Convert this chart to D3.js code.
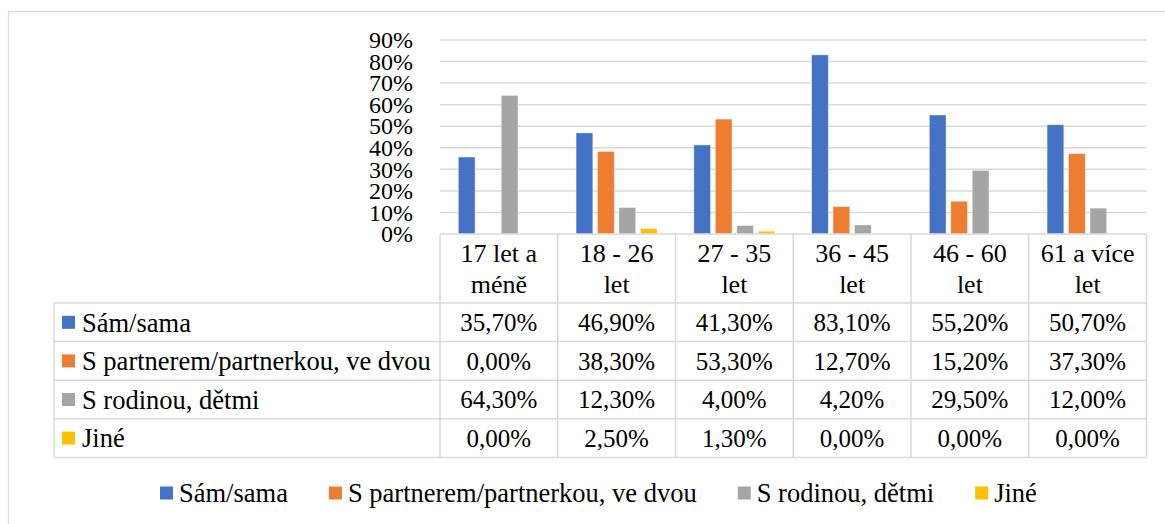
<!DOCTYPE html>
<html>
<head>
<meta charset="utf-8">
<script src="https://cdn.jsdelivr.net/npm/d3@7"></script>
<style>
  body { margin: 0; background: #fff; }
</style>
</head>
<body>
<div id="chart"></div>
<script>
// data
var categories = ["17 let a\nméně", "18 - 26\nlet", "27 - 35\nlet", "36 - 45\nlet", "46 - 60\nlet", "61 a více\nlet"];
var seriesNames = ["Sám/sama", "S partnerem/partnerkou, ve dvou", "S rodinou, dětmi", "Jiné"];
var samSama   = [0.357, 0.469, 0.413, 0.831, 0.552, 0.507];
var sPartnerem = [0.000, 0.383, 0.533, 0.127, 0.152, 0.373];
var sRodinou  = [0.643, 0.123, 0.040, 0.042, 0.295, 0.120];
var jine      = [0.000, 0.025, 0.013, 0.000, 0.000, 0.000];
var yTicks = [0, 0.1, 0.2, 0.3, 0.4, 0.5, 0.6, 0.7, 0.8, 0.9];
var colors = ["#4472C4", "#ED7D31", "#A5A5A5", "#FFC000"];

var seriesValues = [samSama, sPartnerem, sRodinou, jine];

var width = 1165,
    height = 524;

var plotLeft = 440, plotRight = 1146.5,
    plotTop = 40, plotBottom = 234;
var tableLeft = 54,
    headerBottom = 303,
    rowH = 38.6;
var fontSize = 25,
    labelSize = 26.5;
var gridColor = "#d9d9d9";
var serif = "Liberation Serif, Times New Roman, serif";

var cz = d3.formatLocale({decimal: ",", thousands: " ", grouping: [3], currency: ["", " Kč"]});
var pct2 = cz.format(".2%");
var pct0 = cz.format(".0%");

var svg = d3.select("#chart").append("svg")
    .attr("width", width)
    .attr("height", height)
    .attr("font-family", serif);

// chart frame, runs off the right and bottom edge
svg.append("rect")
  .attr("x", 8.5).attr("y", 11.5)
  .attr("width", 1200).attr("height", 600)
  .attr("fill", "none")
  .attr("stroke", gridColor)
  .attr("stroke-width", 1.3);

var x0 = d3.scaleBand()
    .domain(categories)
    .range([plotLeft, plotRight]);

var x1 = d3.scaleBand()
    .domain(seriesNames)
    .range([0, x0.bandwidth()])
    .paddingInner(0.22)
    .paddingOuter(0.855);

var y = d3.scaleLinear()
    .domain([0, 0.9])
    .range([plotBottom, plotTop]);

// gridlines
svg.append("g")
  .selectAll("line")
  .data(yTicks.filter(function(d) { return d > 0; }))
  .join("line")
    .attr("x1", plotLeft).attr("x2", plotRight)
    .attr("y1", function(d) { return y(d); })
    .attr("y2", function(d) { return y(d); })
    .attr("stroke", gridColor)
    .attr("stroke-width", 1.5);

// y axis labels
var yAxis = d3.axisLeft(y).tickValues(yTicks).tickFormat(pct0).tickSize(0).tickPadding(0);
var ya = svg.append("g")
  .attr("transform", "translate(413,0)")
  .call(yAxis);
ya.select(".domain").remove();
ya.attr("font-family", serif).attr("font-size", 24);
ya.selectAll("text")
  .attr("fill", "#000");

// bars
var groups = svg.append("g")
  .selectAll("g")
  .data(categories)
  .join("g")
    .attr("transform", function(d) { return "translate(" + x0(d) + ",0)"; });

groups.selectAll("rect")
  .data(function(d, i) {
    return seriesNames.map(function(s, j) { return {series: s, value: seriesValues[j][i], j: j}; });
  })
  .join("rect")
    .attr("x", function(d) { return x1(d.series); })
    .attr("width", x1.bandwidth())
    .attr("y", function(d) { return y(d.value); })
    .attr("height", function(d) { return plotBottom - y(d.value); })
    .attr("fill", function(d) { return colors[d.j]; })
    .attr("stroke", "#fff")
    .attr("stroke-opacity", 0.5)
    .attr("stroke-width", 0.8);

// data table
var table = svg.append("g");
var tableBottom = headerBottom + rowH * seriesNames.length;

// horizontal lines
table.append("line")
  .attr("x1", plotLeft).attr("x2", plotRight)
  .attr("y1", plotBottom).attr("y2", plotBottom)
  .attr("stroke", gridColor).attr("stroke-width", 1.5);
d3.range(seriesNames.length + 1).forEach(function(i) {
  table.append("line")
    .attr("x1", tableLeft).attr("x2", plotRight)
    .attr("y1", headerBottom + i * rowH).attr("y2", headerBottom + i * rowH)
    .attr("stroke", gridColor).attr("stroke-width", 1.5);
});
// vertical lines
table.append("line")
  .attr("x1", tableLeft).attr("x2", tableLeft)
  .attr("y1", headerBottom).attr("y2", tableBottom)
  .attr("stroke", gridColor).attr("stroke-width", 1.5);
categories.forEach(function(c) {
  table.append("line")
    .attr("x1", x0(c)).attr("x2", x0(c))
    .attr("y1", plotBottom).attr("y2", tableBottom)
    .attr("stroke", gridColor).attr("stroke-width", 1.5);
});
table.append("line")
  .attr("x1", plotRight).attr("x2", plotRight)
  .attr("y1", plotBottom).attr("y2", tableBottom)
  .attr("stroke", gridColor).attr("stroke-width", 1.5);

// header text
categories.forEach(function(c) {
  var lines = c.split("\n");
  var t = table.append("text")
    .attr("text-anchor", "middle")
    .attr("font-size", 26);
  lines.forEach(function(l, k) {
    t.append("tspan")
      .attr("x", x0(c) + x0.bandwidth() / 2)
      .attr("y", 262 + k * 31)
      .text(l);
  });
});

// row labels and values
seriesNames.forEach(function(s, j) {
  var cy = headerBottom + j * rowH + rowH / 2;
  table.append("rect")
    .attr("x", 62).attr("y", cy - 6.5)
    .attr("width", 13).attr("height", 13)
    .attr("fill", colors[j]);
  table.append("text")
    .attr("x", 82)
    .attr("y", cy)
    .attr("dy", "0.35em")
    .attr("font-size", labelSize)
    .text(s);
  categories.forEach(function(c, i) {
    table.append("text")
      .attr("x", x0(c) + x0.bandwidth() / 2)
      .attr("y", cy)
      .attr("dy", "0.35em")
      .attr("text-anchor", "middle")
      .attr("font-size", fontSize)
      .text(pct2(seriesValues[j][i]));
  });
});

// legend
var legend = svg.append("g").attr("transform", "translate(160,493)");
var lx = 0;
seriesNames.forEach(function(s, j) {
  var item = legend.append("g").attr("transform", "translate(" + lx + ",0)");
  item.append("rect")
    .attr("x", 0).attr("y", -6.5)
    .attr("width", 13).attr("height", 13)
    .attr("fill", colors[j]);
  var t = item.append("text")
    .attr("x", 19)
    .attr("dy", "0.35em")
    .attr("font-size", labelSize)
    .text(s);
  lx += 19 + t.node().getComputedTextLength() + 41;
});
</script>
</body>
</html>
